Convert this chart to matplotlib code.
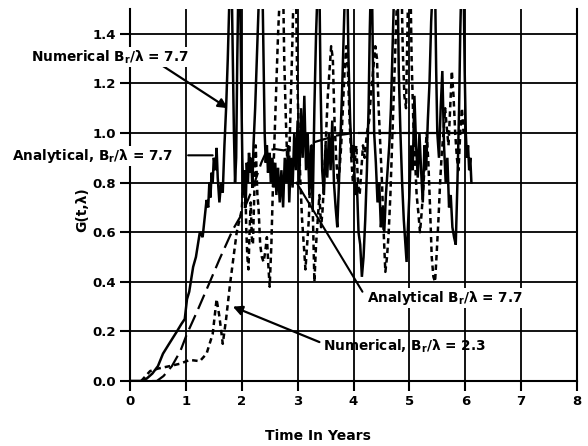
import matplotlib
matplotlib.use("Agg")
import matplotlib.pyplot as plt

# ---------------- data ----------------
num77_t = [0.00, 0.20, 0.30, 0.40, 0.50, 0.59, 0.70, 0.84, 0.92, 0.98, 1.02, 1.06, 1.13,
           1.18, 1.25, 1.30, 1.37, 1.40, 1.42, 1.44, 1.46, 1.48, 1.50, 1.53, 1.55, 1.57,
           1.60, 1.63, 1.66, 1.69, 1.72, 1.75, 1.78, 1.80, 1.82, 1.84, 1.86, 1.88, 1.90,
           1.92, 1.94, 1.97, 1.99, 2.01, 2.03, 2.05, 2.07, 2.09, 2.11, 2.13, 2.15, 2.17,
           2.19, 2.21, 2.24, 2.27, 2.30, 2.33, 2.37, 2.39, 2.41, 2.43, 2.45, 2.47, 2.50,
           2.52, 2.55, 2.57, 2.60, 2.62, 2.65, 2.68, 2.71, 2.74, 2.77, 2.80, 2.83, 2.85,
           2.88, 2.91, 2.94, 2.97, 3.00, 3.03, 3.06, 3.09, 3.12, 3.15, 3.18, 3.21, 3.24,
           3.27, 3.30, 3.33, 3.36, 3.39, 3.41, 3.44, 3.47, 3.50, 3.53, 3.56, 3.59, 3.62,
           3.65, 3.68, 3.71, 3.74, 3.77, 3.80, 3.83, 3.85, 3.89, 3.91, 3.94, 3.97, 4.00,
           4.03, 4.06, 4.09, 4.12, 4.15, 4.18, 4.21, 4.24, 4.27, 4.29, 4.31, 4.33, 4.35,
           4.37, 4.40, 4.43, 4.46, 4.49, 4.52, 4.55, 4.58, 4.61, 4.64, 4.67, 4.70, 4.73,
           4.79, 4.81, 4.84, 4.87, 4.90, 4.93, 4.95, 4.97, 5.00, 5.03, 5.06, 5.09, 5.12,
           5.15, 5.18, 5.21, 5.24, 5.27, 5.30, 5.33, 5.36, 5.39, 5.42, 5.46, 5.48, 5.50,
           5.53, 5.56, 5.59, 5.62, 5.65, 5.68, 5.71, 5.74, 5.77, 5.80, 5.83, 5.86, 5.89,
           5.91, 5.93, 5.97, 5.99, 6.01, 6.03, 6.05, 6.07, 6.09, 6.11]
num77_g = [0.00, 0.00, 0.01, 0.03, 0.06, 0.11, 0.15, 0.20, 0.23, 0.25, 0.33, 0.36, 0.46,
           0.50, 0.60, 0.58, 0.73, 0.70, 0.80, 0.74, 0.84, 0.80, 0.90, 0.85, 0.94, 0.82,
           0.72, 0.80, 0.76, 0.95, 1.10, 1.30, 1.55, 1.60, 1.60, 1.30, 1.00, 0.80, 0.90,
           1.30, 1.60, 1.60, 1.20, 0.90, 0.75, 0.85, 0.70, 0.88, 0.80, 0.92, 0.84, 0.90,
           0.78, 0.95, 1.10, 1.30, 1.50, 1.60, 1.60, 1.30, 1.00, 0.88, 0.95, 0.84, 0.92,
           0.80, 0.90, 0.78, 0.88, 0.75, 0.86, 0.72, 0.85, 0.70, 0.90, 0.80, 0.95, 0.72,
           0.90, 0.78, 1.00, 0.85, 1.05, 0.80, 1.10, 0.90, 1.15, 0.85, 1.00, 0.75, 0.95,
           0.70, 1.10, 1.40, 1.60, 1.60, 1.20, 0.85, 0.75, 0.95, 0.82, 1.00, 0.85, 1.05,
           0.80, 0.70, 0.62, 0.80, 1.00, 1.20, 1.45, 1.60, 1.60, 1.30, 1.05, 0.90, 0.95,
           0.75, 0.80, 0.60, 0.55, 0.42, 0.50, 0.65, 0.85, 1.10, 1.40, 1.60, 1.60, 1.25,
           1.00, 0.88, 0.72, 0.80, 0.62, 0.70, 0.60, 0.75, 0.85, 0.95, 1.10, 1.35, 1.60,
           1.60, 1.25, 1.00, 0.80, 0.65, 0.55, 0.48, 0.60, 0.75, 0.95, 0.85, 1.15, 0.95,
           0.82, 1.00, 0.85, 0.72, 0.95, 0.85, 1.05, 1.20, 1.45, 1.60, 1.60, 1.25, 1.00,
           0.90, 1.10, 1.25, 0.95, 0.80, 0.90, 0.70, 0.75, 0.62, 0.58, 0.55, 0.80, 1.10,
           1.40, 1.60, 1.60, 1.25, 1.00, 0.90, 0.95, 0.85, 0.90, 0.80]

num23_t = [0.20, 0.36, 0.50, 0.71, 0.90, 1.07, 1.25, 1.37, 1.48, 1.55, 1.60, 1.66, 1.72,
           1.79, 1.91, 2.00, 2.03, 2.06, 2.08, 2.10, 2.12, 2.14, 2.16, 2.18, 2.20, 2.23,
           2.25, 2.28, 2.30, 2.33, 2.36, 2.39, 2.42, 2.45, 2.48, 2.50, 2.53, 2.56, 2.59,
           2.62, 2.65, 2.68, 2.71, 2.74, 2.76, 2.79, 2.82, 2.85, 2.88, 2.91, 2.93, 2.97,
           2.99, 3.02, 3.05, 3.08, 3.11, 3.14, 3.17, 3.20, 3.23, 3.25, 3.27, 3.30, 3.33,
           3.36, 3.39, 3.42, 3.45, 3.48, 3.51, 3.54, 3.57, 3.60, 3.63, 3.66, 3.69, 3.72,
           3.75, 3.78, 3.81, 3.84, 3.87, 3.90, 3.93, 3.96, 3.99, 4.02, 4.05, 4.08, 4.11,
           4.14, 4.17, 4.20, 4.24, 4.28, 4.31, 4.35, 4.39, 4.42, 4.45, 4.48, 4.51, 4.54,
           4.57, 4.60, 4.63, 4.66, 4.69, 4.72, 4.75, 4.78, 4.80, 4.86, 4.88, 4.91, 4.94,
           4.96, 4.98, 5.02, 5.04, 5.07, 5.10, 5.13, 5.16, 5.19, 5.22, 5.25, 5.28, 5.31,
           5.34, 5.37, 5.40, 5.43, 5.46, 5.49, 5.52, 5.55, 5.58, 5.61, 5.64, 5.67, 5.70,
           5.73, 5.76, 5.79, 5.82, 5.85, 5.88, 5.91, 5.94, 5.97]
num23_g = [0.00, 0.04, 0.05, 0.06, 0.07, 0.085, 0.08, 0.11, 0.19, 0.33, 0.26, 0.15, 0.25,
           0.39, 0.60, 0.69, 0.80, 0.85, 0.62, 0.50, 0.45, 0.60, 0.72, 0.58, 0.55, 0.80,
           0.95, 0.75, 0.70, 0.55, 0.50, 0.48, 0.52, 0.58, 0.45, 0.38, 0.55, 0.80, 1.00,
           1.20, 1.40, 1.55, 1.60, 1.60, 1.30, 1.05, 0.85, 0.90, 1.15, 1.40, 1.60, 1.60,
           1.25, 1.00, 0.80, 0.65, 0.55, 0.45, 0.55, 0.65, 0.85, 0.95, 0.70, 0.40, 0.55,
           0.65, 0.75, 0.62, 0.70, 0.85, 1.00, 1.15, 1.25, 1.35, 1.30, 1.05, 0.90, 0.80,
           0.85, 0.95, 1.10, 1.25, 1.35, 1.25, 1.05, 0.90, 0.80, 0.88, 0.95, 0.80, 0.75,
           0.85, 0.95, 0.90, 1.00, 1.05, 1.15, 1.25, 1.35, 1.30, 1.10, 0.95, 0.80, 0.60,
           0.44, 0.50, 0.60, 0.75, 0.95, 1.15, 1.35, 1.55, 1.60, 1.60, 1.35, 1.15, 1.10,
           1.35, 1.60, 1.60, 1.30, 1.05, 0.90, 0.75, 0.68, 0.60, 0.68, 0.78, 0.90, 1.00,
           0.88, 0.70, 0.50, 0.42, 0.40, 0.52, 0.65, 0.80, 0.92, 1.00, 1.10, 1.02, 0.95,
           1.10, 1.25, 1.15, 1.00, 0.90, 0.85, 1.00, 1.10, 1.00]

ana77_t = [0.00, 0.48, 0.60, 0.75, 0.90, 1.02, 1.20, 1.43, 1.60, 1.84, 2.02, 2.20, 2.35,
           2.45, 2.60, 2.75, 2.90, 3.10, 3.40, 3.70, 4.00, 4.50, 5.00, 5.50, 6.00]
ana77_g = [0.00, 0.00, 0.02, 0.06, 0.12, 0.19, 0.28, 0.40, 0.49, 0.61, 0.68, 0.78, 0.88,
           0.93, 0.935, 0.93, 0.94, 0.95, 0.97, 0.99, 1.00, 1.00, 1.00, 1.00, 1.00]

xticks = [0, 1, 2, 3, 4, 5, 6, 7, 8]
yticks = [0.0, 0.2, 0.4, 0.6, 0.8, 1.0, 1.2, 1.4]
ytick_labels = ["0.0", "0.2", "0.4", "0.6", "0.8", "1.0", "1.2", "1.4"]

# ---------------- figure ----------------
plt.rcParams['font.family'] = ['DejaVu Sans']
fig = plt.figure(figsize=(5.88, 4.46), dpi=100)
ax = fig.add_axes([130/588, 65/446, 447/588, 372/446])

ax.plot(num77_t, num77_g, color='black', lw=1.8, solid_joinstyle='miter', zorder=3)
ax.plot(num23_t, num23_g, color='black', lw=1.8, dashes=(2.2, 1.6), zorder=3)
ax.plot(ana77_t, ana77_g, color='black', lw=1.6, dashes=(7, 3), zorder=3)

ax.set_xlim(0, 8)
ax.set_ylim(0, 1.5)
ax.set_xticks(xticks)
ax.set_yticks(yticks)
ax.set_yticklabels(ytick_labels)
ax.grid(True, color='black', lw=1.3)
ax.set_axisbelow(True)
ax.spines['top'].set_visible(False)
for s in ['left', 'bottom', 'right']:
    ax.spines[s].set_linewidth(1.5)
ax.tick_params(direction='out', length=7, width=1.5, labelsize=9.5, pad=3)
for lab in ax.get_xticklabels() + ax.get_yticklabels():
    lab.set_fontweight('bold')

fig.text(318/588, 10/446, "Time In Years", ha='center', va='center',
         fontsize=10, fontweight='bold')
fig.text(82/588, 236/446, "G(t,λ)", ha='center', va='center', rotation=90,
         fontsize=10, fontweight='bold')

tkw = dict(fontsize=9.8, fontweight='bold', va='center', ha='left', clip_on=False, zorder=5)
box = dict(facecolor='white', edgecolor='none', pad=1)
ax.text(-1.77, 1.305, "Numerical B$_\\mathregular{r}$/λ = 7.7", bbox=box, **tkw)
ax.text(-2.11, 0.907, "Analytical, B$_\\mathregular{r}$/λ = 7.7", bbox=box, **tkw)
ax.text(4.25, 0.335, "Analytical B$_\\mathregular{r}$/λ = 7.7", bbox=box, **tkw)
ax.text(3.45, 0.14, "Numerical, B$_\\mathregular{r}$/λ = 2.3", **tkw)

akw = dict(arrowstyle='-|>', color='black', lw=1.6, mutation_scale=14, shrinkA=0, shrinkB=0)
ax.annotate("", xy=(1.75, 1.10), xytext=(0.59, 1.27), arrowprops=akw, annotation_clip=False)
ax.annotate("", xy=(1.84, 0.30), xytext=(3.39, 0.157), arrowprops=akw, annotation_clip=False)
lkw = dict(arrowstyle='-', color='black', lw=1.5, shrinkA=0, shrinkB=0)
ax.annotate("", xy=(1.48, 0.91), xytext=(1.04, 0.91), arrowprops=lkw, annotation_clip=False)
ax.annotate("", xy=(2.98, 0.80), xytext=(4.16, 0.36), arrowprops=lkw, annotation_clip=False)

fig.savefig("out.png", dpi=100)
